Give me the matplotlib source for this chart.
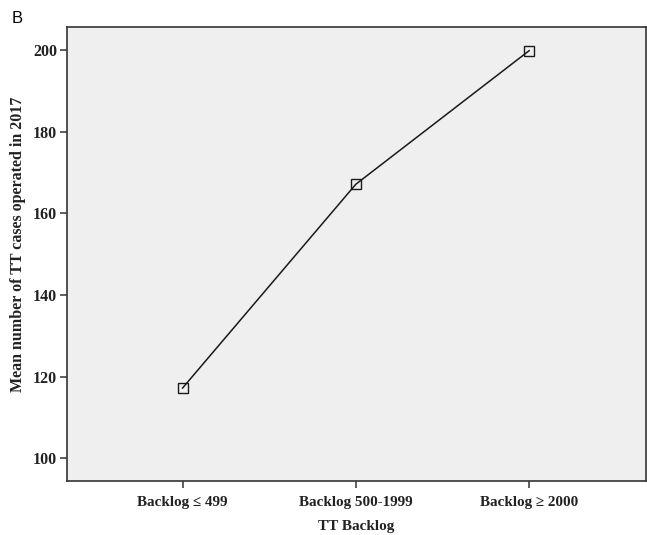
import matplotlib.pyplot as plt

# mean TT cases operated in 2017 by backlog group
categories = ["Backlog \u2264 499", "Backlog 500-1999", "Backlog \u2265 2000"]
mean_cases = [117.2, 167.1, 199.8]
yticks = [100, 120, 140, 160, 180, 200]

plt.rcParams['font.family'] = ['Liberation Serif', 'DejaVu Serif']

fig = plt.figure(figsize=(6.47, 5.35), dpi=100)
ax = fig.add_axes([0.1036, 0.1015, 0.8944, 0.848])
ax.set_facecolor('#efefef')

x = list(range(len(categories)))
ax.plot(x, mean_cases, color='#1a1a1a', linewidth=1.1, marker='s', markersize=6.5,
        markerfacecolor='none', markeredgecolor='#1a1a1a', markeredgewidth=1.0)

ax.set_xlim(-0.667, 2.673)
ax.set_ylim(94.5, 205.6)
ax.set_xticks(x)
ax.set_xticklabels(categories, fontsize=10.9, fontweight='bold', color='#222222')
ax.set_yticks(yticks)
ax.set_yticklabels([str(v) for v in yticks], fontsize=11.5, fontweight='bold', color='#222222')
ax.tick_params(direction='out', length=5, width=1.1, color='#333333')
ax.tick_params(axis='x', pad=6)
ax.tick_params(axis='y', pad=2)

for s in ax.spines.values():
    s.set_color('#333333')
    s.set_linewidth(1.2)

ax.set_xlabel('TT Backlog', fontsize=11, fontweight='bold', color='#222222', labelpad=8)
ax.set_ylabel('Mean number of TT cases operated in 2017', fontsize=11.5,
              fontweight='bold', color='#222222')
ax.yaxis.set_label_coords(-0.071, 0.52)

fig.text(0.018, 0.965, 'B', fontsize=12, family='Liberation Sans', va='center', ha='left')

fig.savefig('out.png', dpi=100)
